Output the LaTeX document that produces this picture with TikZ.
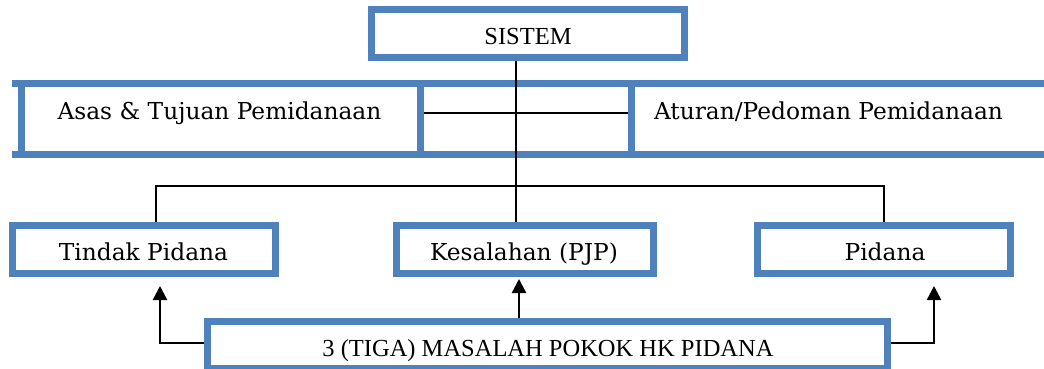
\documentclass[tikz,border=0pt]{standalone}
\usepackage{fontspec}
\setmainfont{Liberation Serif}
\newfontfamily\bkfont{DejaVu Serif}
\usetikzlibrary{arrows.meta}
\definecolor{boxblue}{RGB}{79,129,189}
\tikzset{
  bluebox/.style={draw=boxblue, line width=7pt, fill=white, inner sep=0pt},
  bluepath/.style={draw=boxblue, line width=7pt},
  conn/.style={draw=black, line width=1.8pt},
  arr/.style={draw=black, line width=2.4pt, -{Triangle[length=14pt,width=14pt]}},
  bktext/.style={font=\bkfont\fontsize{23.3}{27}\selectfont, inner sep=0pt, anchor=base},
  tmtext/.style={font=\fontsize{24.5}{29}\selectfont, inner sep=0pt, anchor=base},
}
\begin{document}
\begin{tikzpicture}[x=1pt,y=-1pt]
\useasboundingbox (0,0) rectangle (1044,369);
\clip (0,0) rectangle (1044,369);
% top box
\node[bluebox, minimum width=312.5pt, minimum height=48pt] (sistem) at (528,33.5) {};
\node[tmtext] (sistemT) at (528,44.3) {SISTEM};
% middle strip
\node[bluebox, minimum width=398.5pt, minimum height=71pt] (asas) at (220.75,119) {};
\node[bktext] (asasT) at (219.5,119.3) {Asas \& Tujuan Pemidanaan};
\node[bluebox, minimum width=429pt, minimum height=71pt] (aturan) at (845.5,119) {};
\node[bktext] (aturanT) at (828.5,119.3) {Aturan/Pedoman Pemidanaan};
\draw[bluepath] (12,83.5) -- (21.5,83.5);
\draw[bluepath] (12,154.5) -- (21.5,154.5);
\draw[bluepath] (420,83.5) -- (631,83.5);
\draw[bluepath] (420,154.5) -- (631,154.5);
% lower boxes
\node[bluebox, minimum width=263pt, minimum height=48pt] (tindak) at (144,249.5) {};
\node[bktext] (tindakT) at (143.5,260) {Tindak Pidana};
\node[bluebox, minimum width=257pt, minimum height=48pt] (kes) at (525,249.5) {};
\node[bktext] (kesT) at (524,260) {Kesalahan (PJP)};
\node[bluebox, minimum width=253pt, minimum height=48pt] (pidana) at (884,249.5) {};
\node[bktext] (pidanaT) at (885,260) {Pidana};
% bottom box
\node[bluebox, minimum width=680pt, minimum height=47pt] (bottom) at (547.5,345) {};
\node[tmtext] (bottomT) at (548,356.7) {3 (TIGA) MASALAH POKOK HK PIDANA};
% connectors
\coordinate (vx) at (516,0);
\coordinate (hy) at (0,186);
\coordinate (tx) at (156,0);
\coordinate (my) at (0,113);
\draw[conn] (sistem.south -| vx) -- (kes.north -| vx);
\draw[conn] (asas.east |- my) -- (aturan.west |- my);
\draw[conn] (tindak.north -| tx) |- (hy -| pidana.north) -- (pidana.north);
% arrows
\coordinate (ay) at (0,343);
\coordinate (lt) at (160,286);
\coordinate (mt) at (519,279);
\coordinate (rt) at (934,286);
\draw[arr] (bottom.west |- ay) -| (lt);
\draw[arr] (bottom.north -| mt) -- (mt);
\draw[arr] (bottom.east |- ay) -| (rt);
\end{tikzpicture}
\end{document}
